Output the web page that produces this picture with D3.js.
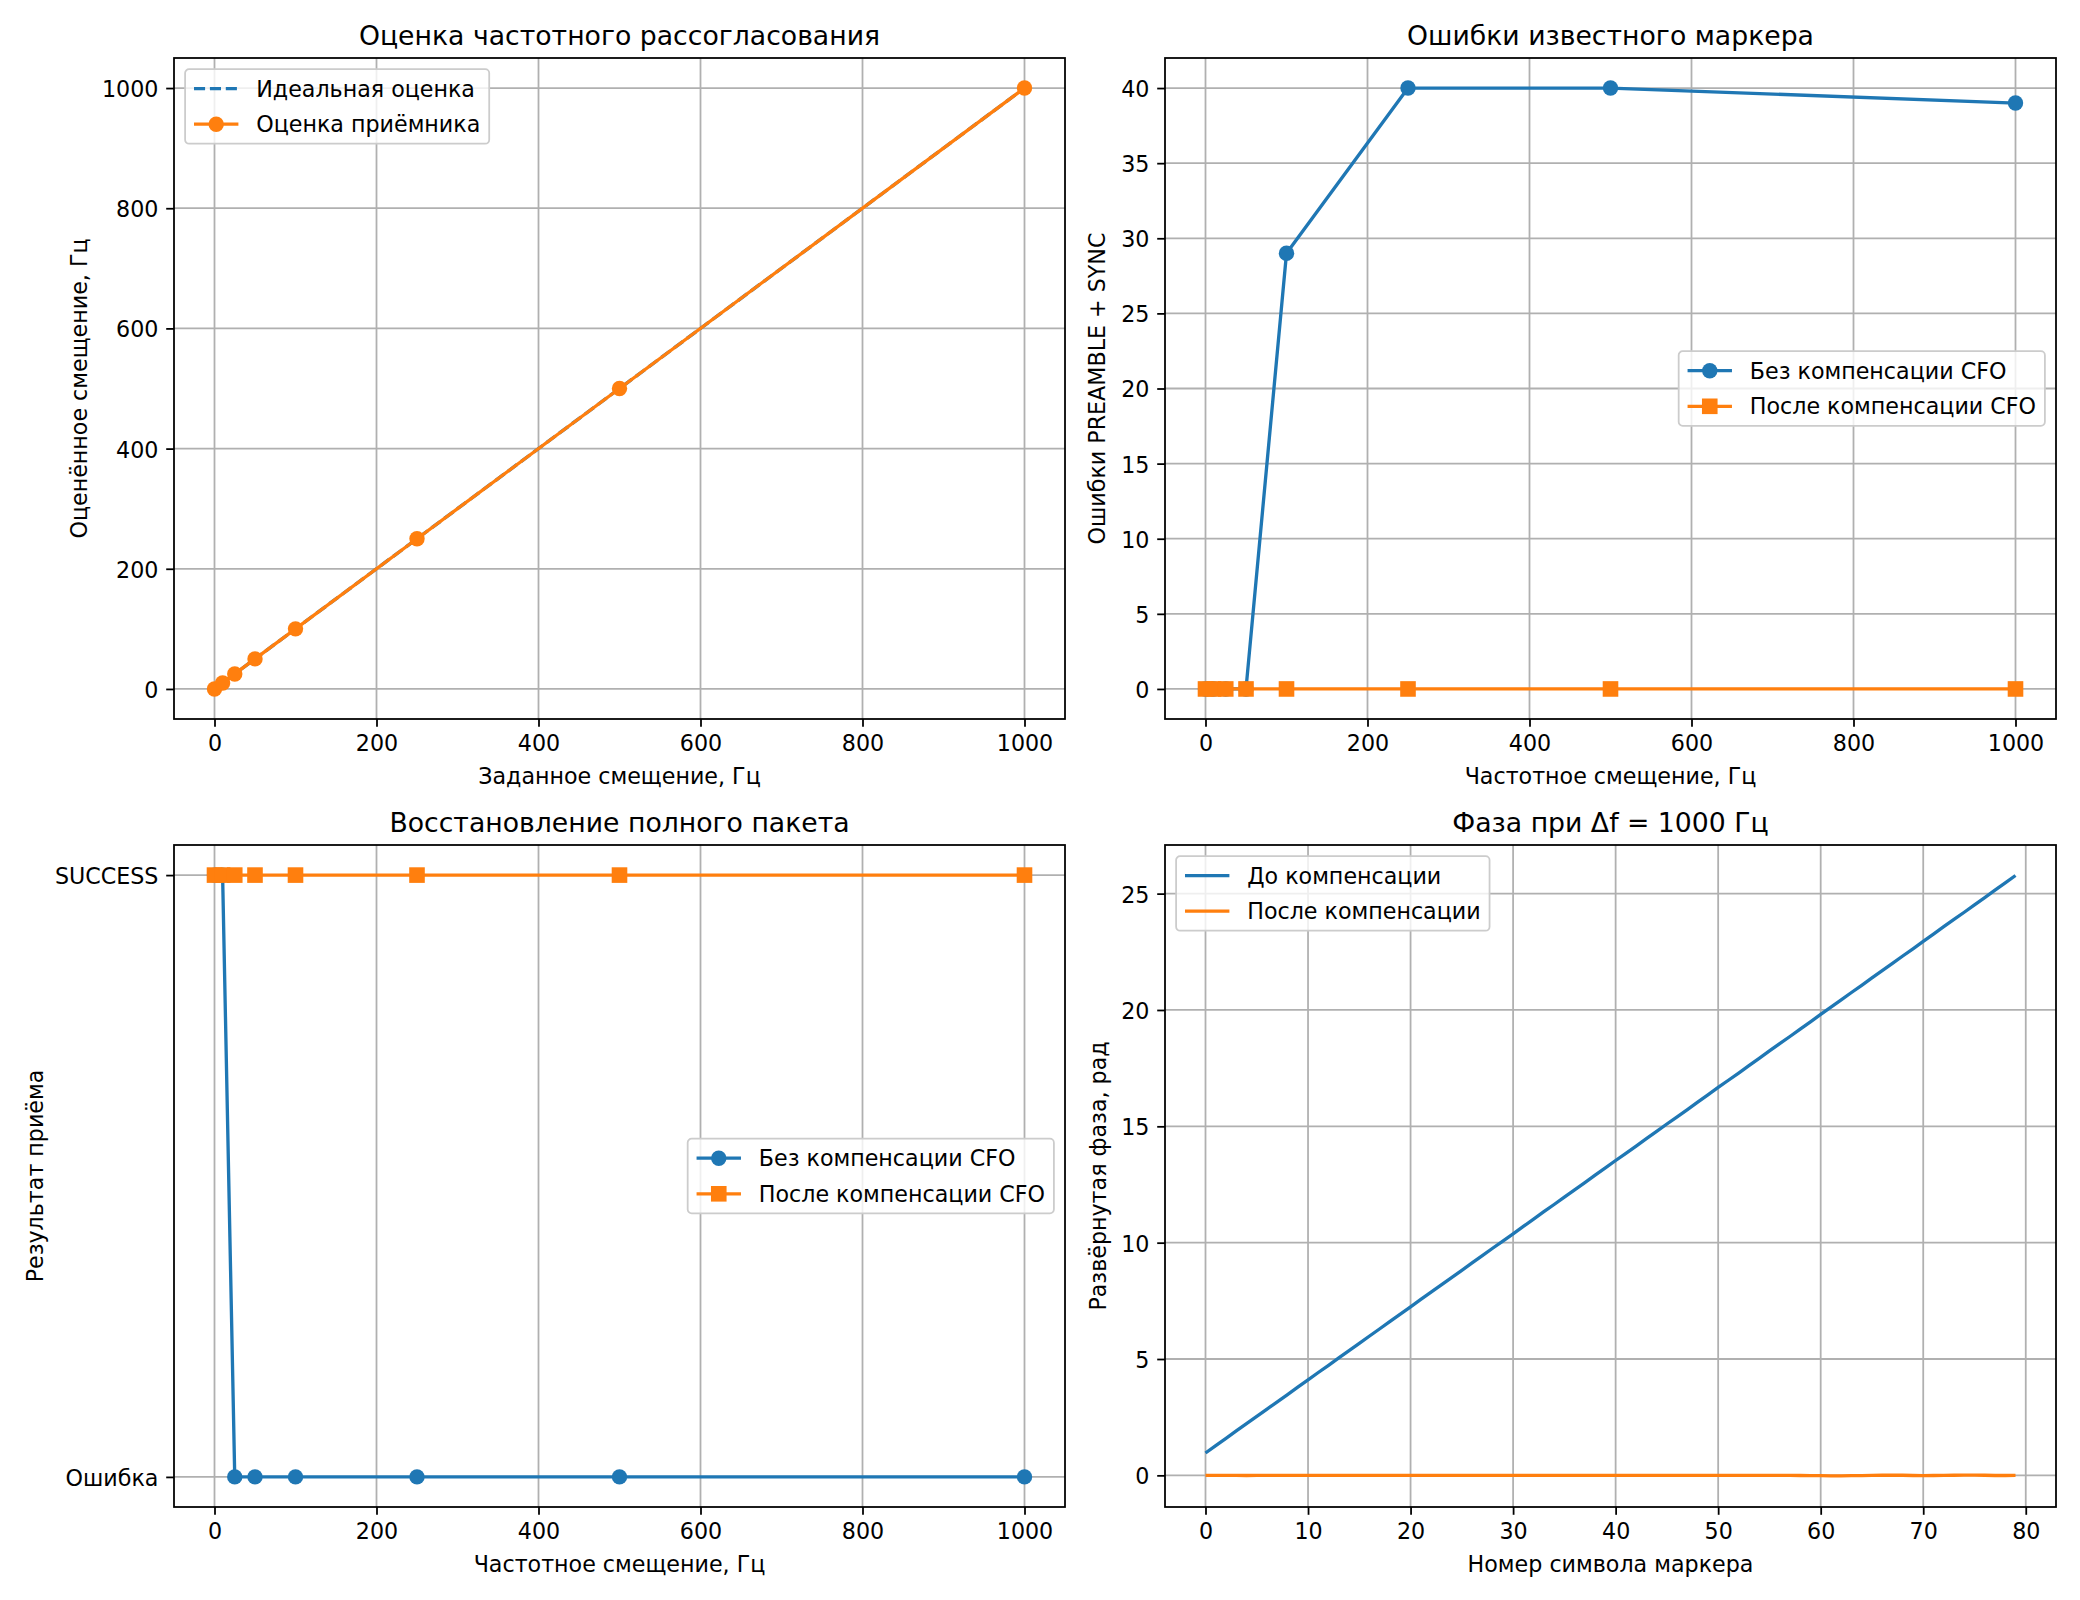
<!DOCTYPE html>
<html>
<head>
<meta charset="utf-8">
<script src="https://cdn.jsdelivr.net/npm/d3@7"></script>
<style>
  body { margin: 0; background: #fff; }
  svg text { font-family: "DejaVu Sans", sans-serif; fill: #000; }
</style>
</head>
<body>
<div id="chart"></div>
<script>
// sizes, figure is 13x10 in at 160 dpi
const W = 2080, H = 1600;
const FS = 22.2, TFS = 26.7;
const LW = 3.33, GRID = 1.78;
const C0 = "#1f77b4", C1 = "#ff7f0e";

// --- data ---
const setOffsetHz = [0, 10, 25, 50, 100, 250, 500, 1000];
const idealEstimate = [0, 10, 25, 50, 100, 250, 500, 1000];
const rxEstimate = [0, 10, 25, 50, 100, 250, 500, 1000];

const errNoComp = [0, 0, 0, 0, 29, 40, 40, 39];
const errComp = [0, 0, 0, 0, 0, 0, 0, 0];

const resultCats = ["Ошибка", "SUCCESS"];
const resNoComp = ["SUCCESS", "SUCCESS", "Ошибка", "Ошибка", "Ошибка", "Ошибка", "Ошибка", "Ошибка"];
const resComp = ["SUCCESS", "SUCCESS", "SUCCESS", "SUCCESS", "SUCCESS", "SUCCESS", "SUCCESS", "SUCCESS"];

const phaseBefore = [
  0.96, 1.28, 1.59, 1.91, 2.22, 2.53, 2.85, 3.16, 3.47, 3.79,
  4.10, 4.42, 4.73, 5.05, 5.36, 5.67, 5.99, 6.30, 6.62, 6.93,
  7.24, 7.56, 7.87, 8.19, 8.50, 8.81, 9.13, 9.44, 9.76, 10.07,
  10.38, 10.70, 11.01, 11.33, 11.64, 11.96, 12.27, 12.58, 12.90, 13.21,
  13.53, 13.84, 14.15, 14.47, 14.78, 15.10, 15.41, 15.72, 16.04, 16.35,
  16.67, 16.98, 17.29, 17.61, 17.92, 18.24, 18.55, 18.86, 19.18, 19.49,
  19.81, 20.12, 20.43, 20.75, 21.06, 21.38, 21.69, 22.00, 22.32, 22.63,
  22.95, 23.26, 23.58, 23.89, 24.20, 24.52, 24.83, 25.15, 25.46, 25.78
];
const phaseAfter = [
  0.00, 0.00, 0.00, 0.00, -0.005, 0.00, 0.00, 0.00, 0.00, 0.00,
  0.00, 0.00, 0.00, 0.00, 0.00, 0.00, 0.00, 0.00, 0.00, 0.00,
  0.00, 0.00, 0.00, 0.00, 0.00, 0.00, 0.00, 0.00, 0.00, 0.00,
  0.00, 0.00, 0.00, 0.00, 0.00, 0.00, 0.00, 0.00, 0.00, 0.00,
  0.00, 0.00, 0.00, 0.00, 0.00, 0.00, 0.00, 0.00, 0.00, 0.00,
  0.00, 0.00, 0.00, 0.00, 0.00, 0.00, 0.00, 0.00, -0.005, -0.01,
  -0.015, -0.02, -0.02, -0.015, -0.01, 0.00, 0.005, 0.01, 0.005, -0.005,
  -0.01, -0.005, 0.00, 0.005, 0.01, 0.01, 0.005, -0.005, -0.005, 0.00
];
const symbolIdx = d3.range(phaseBefore.length);

const hzTicks = [0, 200, 400, 600, 800, 1000];
const estTicks = [0, 200, 400, 600, 800, 1000];
const errTicks = [0, 5, 10, 15, 20, 25, 30, 35, 40];
const symTicks = [0, 10, 20, 30, 40, 50, 60, 70, 80];
const phaseTicks = [0, 5, 10, 15, 20, 25];

// --- svg ---
const svg = d3.select("#chart").append("svg")
  .attr("width", W).attr("height", H)
  .attr("viewBox", `0 0 ${W} ${H}`);
svg.append("rect").attr("width", W).attr("height", H).attr("fill", "#fff");

const boxes = {
  tl: { x: 174, y: 58, w: 891, h: 661 },
  tr: { x: 1165, y: 58, w: 891, h: 661 },
  bl: { x: 174, y: 845, w: 891, h: 662 },
  br: { x: 1165, y: 845, w: 891, h: 662 }
};

let clipN = 0;

// builds one axes: grid, axes, labels, returns group for data + scales
function panel(b, o) {
  const x = d3.scaleLinear().domain(o.xdom).range([0, b.w]);
  const y = d3.scaleLinear().domain(o.ydom).range([b.h, 0]);
  const g = svg.append("g").attr("transform", `translate(${b.x},${b.y})`);

  // grid
  g.append("g").selectAll("line").data(o.xticks).join("line")
    .attr("x1", d => x(d)).attr("x2", d => x(d)).attr("y1", 0).attr("y2", b.h)
    .attr("stroke", "#b0b0b0").attr("stroke-width", GRID);
  g.append("g").selectAll("line").data(o.yticks).join("line")
    .attr("y1", d => y(d)).attr("y2", d => y(d)).attr("x1", 0).attr("x2", b.w)
    .attr("stroke", "#b0b0b0").attr("stroke-width", GRID);

  const xa = d3.axisBottom(x).tickValues(o.xticks).tickSize(7.8).tickPadding(7.8)
    .tickFormat(o.xfmt || d3.format("d"));
  const ya = d3.axisLeft(y).tickValues(o.yticks).tickSize(7.8).tickPadding(7.8)
    .tickFormat(o.yfmt || d3.format("d"));
  const gx = g.append("g").attr("transform", `translate(0,${b.h})`).call(xa);
  const gy = g.append("g").call(ya);
  [gx, gy].forEach(a => {
    a.select(".domain").remove();
    a.selectAll(".tick line").attr("stroke", "#000").attr("stroke-width", GRID);
    a.selectAll(".tick text").attr("font-size", FS).attr("font-family", "DejaVu Sans");
  });
  gx.selectAll(".tick text").attr("dy", "0.76em");
  gy.selectAll(".tick text").attr("dy", "0.38em");

  // data layer, clipped to the axes
  const id = "clip" + (clipN++);
  g.append("clipPath").attr("id", id).append("rect").attr("width", b.w).attr("height", b.h);
  const data = g.append("g").attr("clip-path", `url(#${id})`);
  const top = g.append("g");

  // frame
  top.append("rect").attr("width", b.w).attr("height", b.h)
    .attr("fill", "none").attr("stroke", "#000").attr("stroke-width", GRID);

  // texts
  g.append("text").attr("x", b.w / 2).attr("y", -13.3)
    .attr("text-anchor", "middle").attr("font-size", TFS).text(o.title);
  g.append("text").attr("x", b.w / 2).attr("y", b.h + 65)
    .attr("text-anchor", "middle").attr("font-size", FS).text(o.xlabel);
  g.append("text")
    .attr("transform", `translate(${o.ylabelX - b.x},${b.h / 2}) rotate(-90)`)
    .attr("text-anchor", "middle").attr("dy", "0.35em")
    .attr("font-size", FS).text(o.ylabel);

  return { g, data, top, x, y, b };
}

function drawLine(p, xs, ys, color, opts = {}) {
  const pts = xs.map((v, i) => [p.x(v), p.y(ys[i])]);
  p.data.append("path")
    .attr("d", d3.line()(pts))
    .attr("fill", "none").attr("stroke", color).attr("stroke-width", LW)
    .attr("stroke-linejoin", "round").attr("stroke-linecap", "butt")
    .attr("stroke-dasharray", opts.dash || null);
  if (opts.marker) {
    drawMarkers(p.data, pts, color, opts.marker);
  }
}

function drawMarkers(g, pts, color, kind) {
  if (kind === "o") {
    g.append("g").selectAll("circle").data(pts).join("circle")
      .attr("cx", d => d[0]).attr("cy", d => d[1]).attr("r", 7.7).attr("fill", color);
  } else {
    g.append("g").selectAll("rect").data(pts).join("rect")
      .attr("x", d => d[0] - 7.8).attr("y", d => d[1] - 7.8)
      .attr("width", 15.6).attr("height", 15.6).attr("fill", color);
  }
}

// legend: loc "ul" = upper left, "cr" = center right
function legend(p, items, loc) {
  const pad = 8.9, hl = 44.4, htp = 17.8, rowH = 35.6, pad_ax = 11.1;
  const lg = p.top.append("g");
  const box = lg.append("rect");
  const texts = items.map((it, i) => lg.append("text")
    .attr("font-size", FS).attr("x", pad + hl + htp).attr("y", 19.5 + i * rowH)
    .attr("dy", "0.36em").text(it.label));
  const tw = d3.max(texts, t => t.node().getComputedTextLength());
  const bw = pad + hl + htp + tw + pad;
  const bh = 19.5 * 2 + rowH;
  box.attr("width", bw).attr("height", bh).attr("rx", 4)
    .attr("fill", "rgba(255,255,255,0.8)").attr("stroke", "#cccccc").attr("stroke-width", GRID);
  items.forEach((it, i) => {
    const cy = 19.5 + i * rowH;
    lg.append("line").attr("x1", pad).attr("x2", pad + hl).attr("y1", cy).attr("y2", cy)
      .attr("stroke", it.color).attr("stroke-width", LW)
      .attr("stroke-dasharray", it.dash || null);
    if (it.marker) drawMarkers(lg, [[pad + hl / 2, cy]], it.color, it.marker);
  });
  let lx, ly;
  if (loc === "ul") { lx = pad_ax; ly = pad_ax; }
  else { lx = p.b.w - pad_ax - bw; ly = (p.b.h - bh) / 2; }
  lg.attr("transform", `translate(${lx},${ly})`);
}

// --- panel 1: frequency offset estimate ---
const p1 = panel(boxes.tl, {
  xdom: [-50, 1050], ydom: [-50, 1050], xticks: hzTicks, yticks: estTicks,
  title: "Оценка частотного рассогласования",
  xlabel: "Заданное смещение, Гц", ylabel: "Оценённое смещение, Гц", ylabelX: 79
});
drawLine(p1, setOffsetHz, idealEstimate, C0, { dash: "11.1,4.8" });
drawLine(p1, setOffsetHz, rxEstimate, C1, { marker: "o" });
legend(p1, [
  { label: "Идеальная оценка", color: C0, dash: "11.1,4.8" },
  { label: "Оценка приёмника", color: C1, marker: "o" }
], "ul");

// --- panel 2: marker errors ---
const p2 = panel(boxes.tr, {
  xdom: [-50, 1050], ydom: [-2, 42], xticks: hzTicks, yticks: errTicks,
  title: "Ошибки известного маркера",
  xlabel: "Частотное смещение, Гц", ylabel: "Ошибки PREAMBLE + SYNC", ylabelX: 1097
});
drawLine(p2, setOffsetHz, errNoComp, C0, { marker: "o" });
drawLine(p2, setOffsetHz, errComp, C1, { marker: "s" });
legend(p2, [
  { label: "Без компенсации CFO", color: C0, marker: "o" },
  { label: "После компенсации CFO", color: C1, marker: "s" }
], "cr");

// --- panel 3: packet recovery ---
const p3 = panel(boxes.bl, {
  xdom: [-50, 1050], ydom: [-0.05, 1.05], xticks: hzTicks, yticks: [0, 1],
  yfmt: i => resultCats[i],
  title: "Восстановление полного пакета",
  xlabel: "Частотное смещение, Гц", ylabel: "Результат приёма", ylabelX: 35
});
drawLine(p3, setOffsetHz, resNoComp.map(c => resultCats.indexOf(c)), C0, { marker: "o" });
drawLine(p3, setOffsetHz, resComp.map(c => resultCats.indexOf(c)), C1, { marker: "s" });
legend(p3, [
  { label: "Без компенсации CFO", color: C0, marker: "o" },
  { label: "После компенсации CFO", color: C1, marker: "s" }
], "cr");

// --- panel 4: phase ---
const p4 = panel(boxes.br, {
  xdom: [-3.95, 82.95], ydom: [-1.36, 27.09], xticks: symTicks, yticks: phaseTicks,
  title: "Фаза при Δf = 1000 Гц",
  xlabel: "Номер символа маркера", ylabel: "Развёрнутая фаза, рад", ylabelX: 1098
});
drawLine(p4, symbolIdx, phaseBefore, C0);
drawLine(p4, symbolIdx, phaseAfter, C1);
legend(p4, [
  { label: "До компенсации", color: C0 },
  { label: "После компенсации", color: C1 }
], "ul");
</script>
</body>
</html>
